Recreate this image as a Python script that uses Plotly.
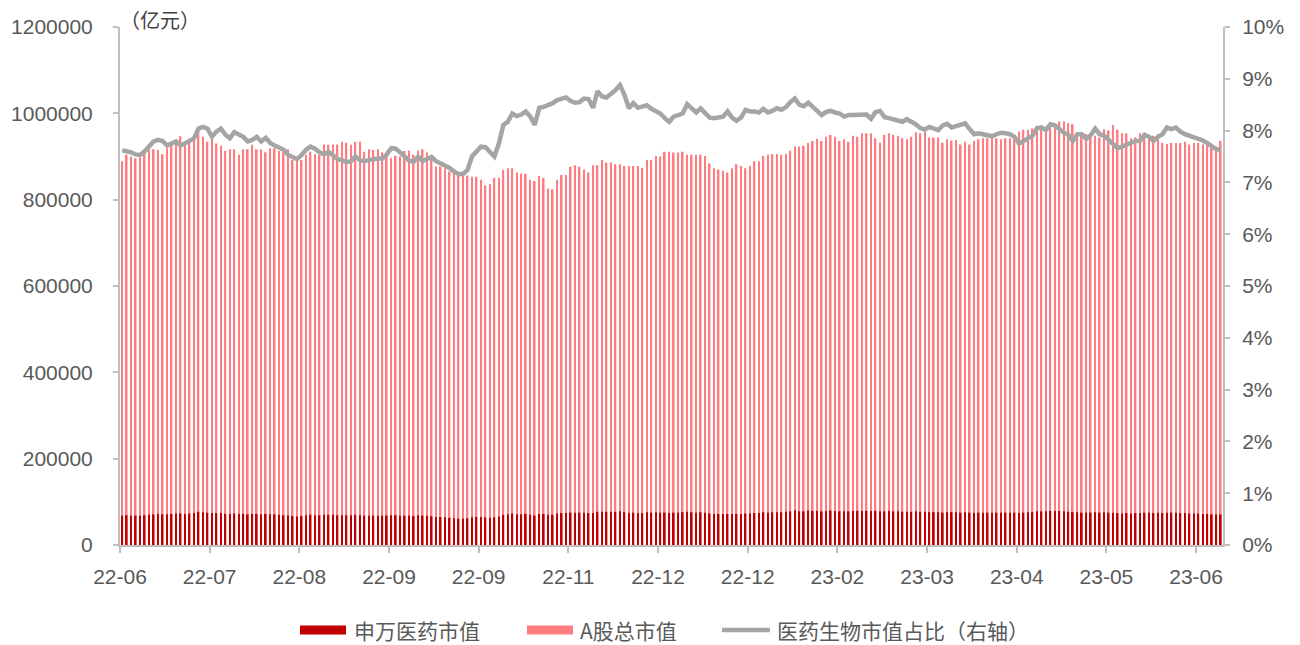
import plotly.graph_objects as go

# ---------------- data ----------------
x_tick_labels = ["22-06", "22-07", "22-08", "22-09", "22-09", "22-11", "22-12",
                 "22-12", "23-02", "23-03", "23-04", "23-05", "23-06"]
tick_every = 20  # one label every 20 trading days

# A股总市值, in thousand 亿元
a_share_total_k = [
    889, 904, 900, 896, 898, 910, 915, 917, 915, 905, 919, 930, 938, 947, 927, 934, 943, 956, 946, 934,
    942, 930, 925, 913, 917, 917, 904, 917, 917, 927, 917, 917, 910, 919, 919, 913, 910, 917, 892, 890,
    892, 904, 911, 905, 904, 928, 927, 928, 928,
    934, 932, 927, 934, 934, 911, 917, 915, 917, 910, 900, 896, 902, 900, 913, 914, 904, 914, 917, 909,
    899, 877, 877, 873, 865, 861, 857, 857, 856, 853, 853, 846, 833, 836, 851, 851, 869, 873, 873, 863,
    860, 860, 846, 843, 855, 850, 826, 824, 846,
    857, 857, 876, 880, 876, 870, 863, 880, 880, 892, 886, 886, 882, 882, 878, 878, 878, 878, 874, 892,
    892, 901, 900, 911, 911, 909, 909, 911, 904, 904, 904, 904, 901, 884, 873, 870, 867, 863, 873, 882,
    878, 873, 878, 889, 889, 901, 904, 906, 906, 904,
    906, 914, 923, 923, 925, 931, 936, 941, 936, 946, 950, 946, 936, 940, 934, 948, 946, 954, 954, 954,
    942, 932, 950, 954, 950, 948, 942, 940, 946, 956, 954, 958, 944, 944, 944, 932, 940, 937, 938, 928,
    934, 928, 936, 940, 942, 942, 946, 942, 940,
    942, 942, 950, 958, 962, 962, 965, 971, 969, 969, 973, 975, 981, 981, 977, 975, 954, 950, 952, 946,
    948, 944, 963, 960, 973, 962, 954, 954, 942, 944, 954, 952, 950, 948, 952, 931, 929, 931, 931, 931,
    934, 928, 931, 931, 928, 927, 925, 923, 936,
]

# 申万医药市值, in thousand 亿元
sw_pharma_k = [
    68, 69, 68, 68, 68, 69, 70, 71, 72, 71, 71, 72, 73, 73, 72, 73, 74, 77, 76, 75,
    74, 74, 74, 72, 72, 73, 72, 72, 71, 72, 72, 71, 72, 71, 71, 70, 69, 69, 67, 66,
    67, 69, 70, 69, 69, 70, 70, 70, 69,
    69, 69, 69, 70, 69, 68, 68, 68, 68, 68, 68, 69, 69, 68, 68, 68, 67, 69, 68, 68,
    67, 65, 65, 64, 63, 62, 61, 61, 62, 64, 65, 65, 64, 63, 64, 66, 70, 71, 73, 71,
    71, 72, 70, 68, 72, 72, 70, 70, 73,
    74, 74, 75, 75, 75, 75, 74, 74, 77, 77, 77, 77, 77, 78, 76, 74, 75, 74, 74, 76,
    75, 76, 75, 75, 74, 75, 75, 76, 77, 76, 75, 76, 75, 73, 72, 72, 72, 72, 72, 72,
    72, 73, 73, 74, 74, 76, 75, 76, 76, 76,
    77, 78, 80, 78, 78, 80, 79, 79, 78, 79, 80, 79, 78, 78, 78, 79, 79, 79, 79, 79,
    79, 78, 78, 79, 78, 78, 77, 77, 77, 78, 77, 77, 76, 76, 76, 75, 76, 76, 76, 75,
    76, 75, 74, 75, 75, 75, 75, 75, 75,
    75, 75, 75, 74, 75, 76, 76, 78, 78, 78, 79, 79, 79, 78, 77, 76, 76, 75, 75, 75,
    76, 75, 76, 75, 75, 74, 73, 74, 73, 74, 74, 75, 75, 74, 75, 74, 75, 75, 75, 74,
    74, 73, 73, 73, 72, 72, 71, 71, 71,
]

# 医药生物市值占比 (%), right axis
pharma_ratio_pct = [
    7.62, 7.61, 7.58, 7.54, 7.53, 7.60, 7.69, 7.79, 7.82, 7.80, 7.71, 7.76, 7.79, 7.71, 7.76, 7.82, 7.85, 8.04, 8.07, 8.04,
    7.88, 7.98, 8.04, 7.92, 7.85, 7.97, 7.93, 7.88, 7.79, 7.82, 7.88, 7.79, 7.86, 7.76, 7.71, 7.67, 7.63, 7.53, 7.48, 7.45,
    7.53, 7.63, 7.69, 7.65, 7.58, 7.54, 7.59, 7.51, 7.45,
    7.43, 7.39, 7.41, 7.50, 7.43, 7.41, 7.43, 7.45, 7.46, 7.46, 7.54, 7.66, 7.65, 7.58, 7.50, 7.42, 7.40, 7.50, 7.41, 7.46,
    7.49, 7.41, 7.37, 7.34, 7.28, 7.21, 7.16, 7.16, 7.24, 7.50, 7.61, 7.69, 7.68, 7.59, 7.50, 7.75, 8.11, 8.17, 8.33, 8.28,
    8.31, 8.37, 8.27, 8.11, 8.44, 8.46, 8.49, 8.53, 8.59,
    8.62, 8.64, 8.57, 8.54, 8.55, 8.62, 8.61, 8.44, 8.76, 8.66, 8.64, 8.70, 8.78, 8.88, 8.69, 8.43, 8.53, 8.44, 8.46, 8.49,
    8.42, 8.38, 8.33, 8.24, 8.17, 8.27, 8.30, 8.33, 8.51, 8.43, 8.35, 8.43, 8.33, 8.25, 8.24, 8.25, 8.27, 8.37, 8.25, 8.19,
    8.25, 8.40, 8.37, 8.37, 8.35, 8.42, 8.35, 8.38, 8.43, 8.40,
    8.45, 8.55, 8.62, 8.50, 8.47, 8.54, 8.45, 8.36, 8.30, 8.36, 8.38, 8.35, 8.33, 8.27, 8.30, 8.30, 8.30, 8.30, 8.31, 8.23,
    8.36, 8.38, 8.26, 8.24, 8.21, 8.20, 8.17, 8.22, 8.18, 8.12, 8.05, 8.02, 8.07, 8.04, 8.01, 8.10, 8.13, 8.06, 8.09, 8.12,
    8.14, 8.03, 7.93, 7.95, 7.93, 7.91, 7.89, 7.93, 7.96,
    7.95, 7.93, 7.88, 7.75, 7.80, 7.85, 7.90, 8.04, 8.06, 8.01, 8.12, 8.10, 8.03, 7.96, 7.92, 7.80, 7.93, 7.93, 7.84, 7.91,
    8.04, 7.93, 7.90, 7.82, 7.72, 7.66, 7.69, 7.73, 7.75, 7.80, 7.80, 7.92, 7.88, 7.80, 7.88, 7.93, 8.06, 8.03, 8.06, 7.98,
    7.93, 7.90, 7.88, 7.86, 7.81, 7.76, 7.71, 7.64, 7.63,
]

legend_names = ["申万医药市值", "A股总市值", "医药生物市值占比（右轴）"]
unit_label = "（亿元）"

# ---------------- styling ----------------
W, H = 1300, 645
PL, PR, PT, PB = 120, 1223, 27, 545
RED = "#C00000"
PINK = "#FF7C80"
GREY = "#A5A5A5"
AXIS = "#BFBFBF"
TXT = "#595959"
FONT = "Liberation Sans, Arial, Noto Sans CJK SC, sans-serif"
CJK_FONT = "Noto Sans CJK SC, Liberation Sans, sans-serif"


def px_x(px):
    return (px - PL) / (PR - PL)


def px_y(py):
    return (PB - py) / (PB - PT)


n = len(a_share_total_k)
idx = list(range(n))
a_total = [v * 1000 for v in a_share_total_k]
sw_total = [v * 1000 for v in sw_pharma_k]

fig = go.Figure()
fig.add_trace(go.Bar(x=idx, y=a_total, width=0.36, name=legend_names[1],
                     marker=dict(color=PINK, line=dict(width=0)), showlegend=False))
fig.add_trace(go.Bar(x=idx, y=sw_total, width=0.36, name=legend_names[0],
                     marker=dict(color=RED, line=dict(width=0)), showlegend=False))
fig.add_trace(go.Scatter(x=idx, y=pharma_ratio_pct, yaxis="y2", mode="lines", name=legend_names[2],
                         line=dict(color=GREY, width=4.5), showlegend=False))

tickvals = [k * tick_every - 0.5 for k in range(len(x_tick_labels))]

fig.update_layout(
    width=W, height=H,
    margin=dict(l=PL, r=W - PR, t=PT, b=H - PB, pad=0),
    barmode="overlay",
    plot_bgcolor="white", paper_bgcolor="white",
    font=dict(family=FONT, size=21, color=TXT),
    showlegend=False,
    hovermode=False,
    xaxis=dict(range=[-0.5, n - 0.5], tickmode="array", tickvals=tickvals, ticktext=x_tick_labels,
               showline=True, linecolor=AXIS, linewidth=2, ticks="outside", ticklen=6,
               tickcolor=AXIS, tickwidth=2, showgrid=False, zeroline=False, ticklabelstandoff=6),
    yaxis=dict(range=[0, 1200000], dtick=200000, tickformat="d",
               showline=True, linecolor=AXIS, linewidth=2, ticks="outside", ticklen=5,
               tickcolor=AXIS, tickwidth=2, showgrid=False, zeroline=False, ticklabelstandoff=16),
    yaxis2=dict(range=[0, 10], dtick=1, ticksuffix="%", overlaying="y", side="right",
                showline=True, linecolor=AXIS, linewidth=2, ticks="outside", ticklen=5,
                tickcolor=AXIS, tickwidth=2, showgrid=False, zeroline=False, ticklabelstandoff=8),
)

annotations = [
    dict(text=unit_label, xref="paper", yref="paper", x=px_x(118), y=px_y(19),
         xanchor="left", yanchor="middle", showarrow=False,
         font=dict(family=CJK_FONT, size=20, color="#404040")),
]
shapes = []
# custom legend: swatch + label
legend_items = [
    ("rect", RED, 300, 346, 352, legend_names[0]),
    ("rect", PINK, 527, 573, 578, legend_names[1]),
    ("line", GREY, 722, 770, 775, legend_names[2]),
]
ly = 630
for kind, col, x0, x1, tx, label in legend_items:
    if kind == "rect":
        shapes.append(dict(type="rect", xref="paper", yref="paper", x0=px_x(x0), x1=px_x(x1),
                           y0=px_y(ly - 4.5), y1=px_y(ly + 4.5), fillcolor=col, line=dict(width=0)))
    else:
        shapes.append(dict(type="line", xref="paper", yref="paper", x0=px_x(x0), x1=px_x(x1),
                           y0=px_y(ly), y1=px_y(ly), line=dict(color=col, width=4.5)))
    annotations.append(dict(text=label, xref="paper", yref="paper", x=px_x(tx), y=px_y(ly),
                            xanchor="left", yanchor="middle", showarrow=False,
                            font=dict(family=CJK_FONT, size=21, color=TXT)))

fig.update_layout(annotations=annotations, shapes=shapes)

fig.write_html("out.html", config={"displayModeBar": False},
               post_script="document.body.style.margin='0';document.body.style.overflow='hidden';")
